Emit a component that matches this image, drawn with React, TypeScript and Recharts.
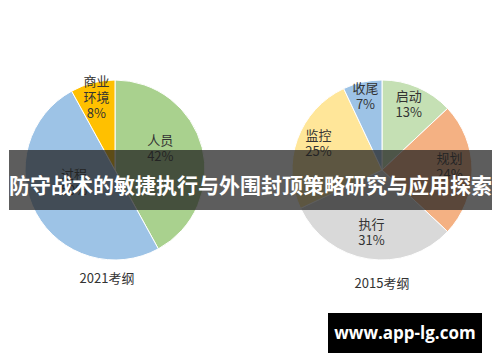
import React from 'react';
import { PieChart, Pie, Cell } from 'recharts';

const RADIAN = Math.PI / 180;

// 2021考纲
const names2021 = ['人员', '过程', '商业环境'];
const values2021 = [42, 50, 8];
const colors2021 = ['#a9d18e', '#9dc3e6', '#ffc000'];

// 2015考纲
const names2015 = ['启动', '规划', '执行', '监控', '收尾'];
const values2015 = [13, 24, 31, 25, 7];
const colors2015 = ['#c5e0b4', '#f4b183', '#d9d9d9', '#ffe699', '#9dc3e6'];

const titles = ['2021考纲', '2015考纲'];
const bannerText = '防守战术的敏捷执行与外围封顶策略研究与应用探索';
const watermark = 'www.app-lg.com';

const FONT = '"Noto Sans CJK SC", "Noto Sans", sans-serif';

const toRows = (names: string[], values: number[]) =>
  names.map((name, i) => ({ name, value: values[i] }));

const data2021 = toRows(names2021, values2021);
const data2015 = toRows(names2015, values2015);

// label sits inside the slice; small slices get pushed toward the rim
const makeLabel = (ratio: number, smallRatio: number, dy: number) => (props: any) => {
  const { cx, cy, midAngle, outerRadius, name, value, percent } = props;
  const r = outerRadius * (percent < 0.1 ? smallRatio : ratio);
  const x = cx + r * Math.cos(-midAngle * RADIAN);
  const y = cy + r * Math.sin(-midAngle * RADIAN) + (percent < 0.1 ? 0 : dy);
  const lines = name.length > 2 ? [name.slice(0, 2), name.slice(2)] : [name];
  lines.push(`${value}%`);
  const lh = 16;
  const top = y - ((lines.length - 1) * lh) / 2 + 4.5;
  return (
    <text x={x} y={top} textAnchor="middle" fill="#333" fontSize={13} fontFamily={FONT}>
      {lines.map((l, i) => (
        <tspan key={i} x={x} y={top + i * lh}>
          {l}
        </tspan>
      ))}
    </text>
  );
};

export default function App() {
  return (
    <div style={{ position: 'relative', width: 500, height: 362, background: '#fff', fontFamily: FONT }}>
      <style>{`body{margin:0}`}</style>
      <PieChart width={500} height={362}>
        <Pie
          data={data2021}
          dataKey="value"
          nameKey="name"
          cx={110}
          cy={165}
          outerRadius={90}
          startAngle={90}
          endAngle={-270}
          stroke="#fff"
          strokeWidth={1}
          labelLine={false}
          label={makeLabel(0.52, 0.83, -10)}
          isAnimationActive={false}
        >
          {data2021.map((d, i) => (
            <Cell key={d.name} fill={colors2021[i]} />
          ))}
        </Pie>
        <Pie
          data={data2015}
          dataKey="value"
          nameKey="name"
          cx={377}
          cy={165}
          outerRadius={90}
          startAngle={90}
          endAngle={-270}
          stroke="#fff"
          strokeWidth={1}
          labelLine={false}
          label={makeLabel(0.75, 0.84, -4)}
          isAnimationActive={false}
        >
          {data2015.map((d, i) => (
            <Cell key={d.name} fill={colors2015[i]} />
          ))}
        </Pie>
      </PieChart>

      <div style={{ position: 'absolute', left: 67, top: 268, width: 80, textAlign: 'center', fontSize: 13, color: '#333' }}>
        {titles[0]}
      </div>
      <div style={{ position: 'absolute', left: 342, top: 273, width: 80, textAlign: 'center', fontSize: 13, color: '#333' }}>
        {titles[1]}
      </div>

      <div
        style={{
          position: 'absolute',
          left: 9,
          top: 150,
          width: 483,
          height: 60,
          background: 'rgba(30,30,30,0.72)',
          color: '#fff',
          fontSize: 21,
          fontWeight: 'bold',
          lineHeight: '68px',
          textAlign: 'center',
          whiteSpace: 'nowrap',
          overflow: 'hidden',
        }}
      >
        {bannerText}
      </div>

      <div
        style={{
          position: 'absolute',
          left: 328,
          top: 313,
          width: 154,
          height: 40,
          background: '#000',
          color: '#fff',
          fontSize: 17,
          fontWeight: 'bold',
          lineHeight: '40px',
          textAlign: 'center',
          fontFamily: '"Open Sans", "DejaVu Sans", sans-serif',
        }}
      >
        {watermark}
      </div>
    </div>
  );
}
